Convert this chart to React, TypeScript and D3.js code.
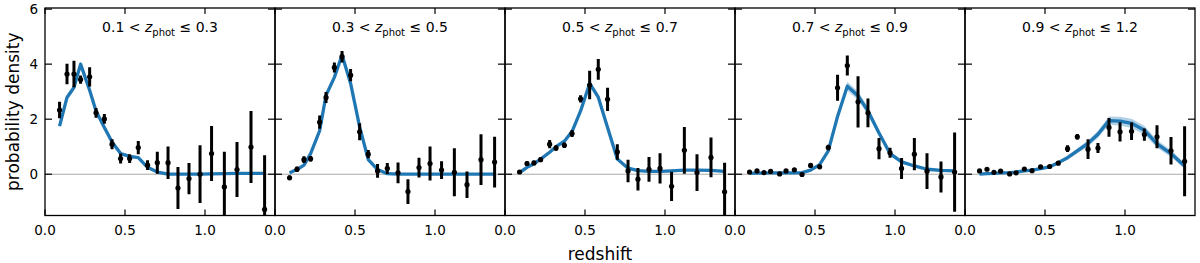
import React from "react";
import * as d3 from "d3";

// redshift bin centres (shared by every panel)
const zBins = [0.091, 0.1375, 0.181, 0.2225, 0.279, 0.319, 0.371, 0.419, 0.4725, 0.529, 0.583,
  0.641, 0.702, 0.769, 0.831, 0.9, 0.969, 1.041, 1.121, 1.2, 1.2875, 1.3725];

const panelLo = ["0.1", "0.3", "0.5", "0.7", "0.9"];
const panelHi = ["0.3", "0.5", "0.7", "0.9", "1.2"];

// measured n(z) with errors
const obs1 = [2.33, 3.64, 3.64, 3.44, 3.54, 2.23, 2.01, 1.09, 0.57, 0.57, 0.97, 0.33, 0.42, 0.42, -0.5, -0.16, 0.0, 0.75, -0.46, 0.17, 0.99, -1.28];
const err1 = [0.3, 0.37, 0.48, 0.15, 0.35, 0.18, 0.18, 0.18, 0.18, 0.16, 0.24, 0.18, 0.4, 0.59, 0.76, 0.57, 1.05, 1.0, 1.28, 1.0, 1.31, 1.97];
const obs2 = [-0.13, 0.18, 0.53, 0.56, 1.89, 2.79, 3.88, 4.27, 3.6, 1.54, 0.73, 0.12, 0.21, 0.05, -0.63, 0.24, 0.39, 0.15, 0.07, -0.38, 0.53, 0.44];
const err2 = [0.08, 0.1, 0.12, 0.1, 0.24, 0.2, 0.18, 0.21, 0.22, 0.31, 0.15, 0.25, 0.2, 0.38, 0.45, 0.36, 0.62, 0.32, 0.87, 0.48, 0.92, 0.92];
const obs3 = [0.08, 0.39, 0.41, 0.53, 1.09, 0.95, 1.05, 1.48, 2.74, 3.24, 3.81, 2.72, 0.81, 0.12, -0.18, 0.18, 0.21, -0.44, 0.87, 0.06, 0.61, -0.64];
const err3 = [0.05, 0.08, 0.08, 0.08, 0.15, 0.1, 0.1, 0.13, 0.13, 0.52, 0.38, 0.42, 0.28, 0.41, 0.41, 0.45, 0.55, 0.53, 0.85, 0.67, 0.72, 1.06];
const obs4 = [0.08, 0.12, 0.06, 0.1, 0.01, 0.12, 0.16, -0.01, 0.32, 0.27, 0.97, 3.14, 3.95, 2.63, 2.23, 0.93, 0.78, 0.21, 0.73, 0.11, -0.1, 0.08];
const err4 = [0.04, 0.04, 0.04, 0.04, 0.04, 0.04, 0.05, 0.05, 0.06, 0.07, 0.1, 0.47, 0.36, 0.93, 0.52, 0.39, 0.18, 0.38, 0.59, 0.65, 0.56, 1.44];
const obs5 = [0.12, 0.18, 0.07, 0.11, 0.01, 0.05, 0.19, 0.13, 0.27, 0.28, 0.4, 0.93, 1.36, 0.91, 0.95, 1.7, 1.54, 1.56, 1.44, 1.36, 0.85, 0.47];
const err5 = [0.04, 0.04, 0.04, 0.04, 0.04, 0.04, 0.04, 0.04, 0.05, 0.05, 0.06, 0.12, 0.1, 0.36, 0.18, 0.34, 0.35, 0.32, 0.22, 0.42, 0.5, 1.27];

// model curves and half-width of the uncertainty band
const model1 = [1.75, 2.79, 3.15, 4.0, 3.05, 2.3, 1.7, 1.17, 0.75, 0.65, 0.6, 0.25, 0.08, 0.0, 0.0, 0.0, 0.0, 0.01, 0.02, 0.03, 0.03, 0.03];
const band1 = [0.1, 0.1, 0.1, 0.1, 0.08, 0.07, 0.06, 0.05, 0.04, 0.04, 0.04, 0.03, 0.03, 0.03, 0.03, 0.03, 0.03, 0.03, 0.03, 0.03, 0.03, 0.03];
const model2 = [0.05, 0.17, 0.33, 0.75, 1.58, 2.87, 3.52, 4.33, 3.3, 1.72, 0.53, 0.17, 0.02, 0.0, 0.0, 0.0, 0.0, 0.0, 0.0, 0.0, 0.0, 0.0];
const band2 = [0.03, 0.03, 0.04, 0.05, 0.06, 0.07, 0.07, 0.08, 0.07, 0.06, 0.04, 0.03, 0.03, 0.03, 0.03, 0.03, 0.03, 0.03, 0.03, 0.03, 0.03, 0.03];
const model3 = [0.06, 0.25, 0.38, 0.55, 0.8, 1.0, 1.2, 1.55, 2.3, 3.3, 2.8, 1.7, 0.55, 0.22, 0.13, 0.1, 0.1, 0.12, 0.15, 0.15, 0.14, 0.1];
const band3 = [0.03, 0.03, 0.03, 0.04, 0.04, 0.05, 0.05, 0.06, 0.08, 0.1, 0.09, 0.07, 0.05, 0.04, 0.04, 0.04, 0.04, 0.04, 0.04, 0.04, 0.04, 0.04];
const model4 = [0.03, 0.04, 0.04, 0.05, 0.05, 0.05, 0.05, 0.06, 0.15, 0.35, 0.85, 2.1, 3.2, 2.85, 2.3, 1.5, 0.75, 0.45, 0.3, 0.18, 0.14, 0.12];
const band4 = [0.03, 0.03, 0.03, 0.03, 0.03, 0.03, 0.03, 0.03, 0.04, 0.05, 0.07, 0.12, 0.16, 0.16, 0.14, 0.12, 0.08, 0.06, 0.05, 0.05, 0.04, 0.04];
const model5 = [0.0, 0.02, 0.03, 0.05, 0.06, 0.08, 0.12, 0.15, 0.2, 0.27, 0.42, 0.6, 0.85, 1.12, 1.45, 1.95, 1.93, 1.85, 1.6, 1.1, 0.75, 0.3];
const band5 = [0.03, 0.03, 0.03, 0.03, 0.03, 0.03, 0.04, 0.04, 0.04, 0.05, 0.06, 0.07, 0.09, 0.11, 0.13, 0.15, 0.16, 0.17, 0.16, 0.14, 0.12, 0.1];

const observed = [obs1, obs2, obs3, obs4, obs5];
const errors = [err1, err2, err3, err4, err5];
const models = [model1, model2, model3, model4, model5];
const bands = [band1, band2, band3, band4, band5];

const xTicks = [0, 0.5, 1.0];
const yTicks = [0, 2, 4, 6];

const W = 1200;
const H = 263;
const left = 45;
const panelW = 230;
const top = 8;
const bottom = 215.5;
const blue = "#1f77b4";
const font = "DejaVu Sans, sans-serif";

const y = d3.scaleLinear().domain([-1.5, 6.04]).range([bottom, top]);

const Panel = ({ idx }: { idx: number }) => {
  const x0 = left + idx * panelW;
  const x = d3.scaleLinear().domain([0, 1.4375]).range([x0, x0 + panelW]);
  const obs = observed[idx];
  const err = errors[idx];
  const mod = models[idx];
  const bw = bands[idx];
  const line = d3.line<number>().x((_, i) => x(zBins[i])).y((d) => y(d));
  const area = d3.area<number>()
    .x((_, i) => x(zBins[i]))
    .y0((d, i) => y(d - bw[i]))
    .y1((d, i) => y(d + bw[i]));
  const clipId = `clip${idx}`;
  return (
    <g>
      <defs>
        <clipPath id={clipId}>
          <rect x={x0} y={top} width={panelW} height={bottom - top} />
        </clipPath>
      </defs>
      <g clipPath={`url(#${clipId})`}>
        <line x1={x0} x2={x0 + panelW} y1={y(0)} y2={y(0)} stroke="#aaaaaa" strokeWidth={1} />
        <path d={area(mod) || ""} fill={blue} fillOpacity={0.35} />
        <path d={line(mod) || ""} fill="none" stroke={blue} strokeWidth={3.3} strokeLinejoin="round" />
        {obs.map((v, i) => (
          <g key={i}>
            <line x1={x(zBins[i])} x2={x(zBins[i])} y1={y(v - err[i])} y2={y(v + err[i])}
              stroke="black" strokeWidth={3} />
            <circle cx={x(zBins[i])} cy={y(v)} r={2.6} fill="black" />
          </g>
        ))}
      </g>
      {/* inward ticks on all four sides */}
      {xTicks.map((t) => (
        <g key={`x${t}`}>
          <line x1={x(t)} x2={x(t)} y1={bottom} y2={bottom - 6} stroke="black" strokeWidth={1.2} />
          <line x1={x(t)} x2={x(t)} y1={top} y2={top + 6} stroke="black" strokeWidth={1.2} />
          <text x={x(t)} y={bottom + 19} textAnchor="middle" fontSize={13.5} fontFamily={font}>
            {t.toFixed(1)}
          </text>
        </g>
      ))}
      {yTicks.map((t) => (
        <g key={`y${t}`}>
          <line x1={x0} x2={x0 + 7} y1={y(t)} y2={y(t)} stroke="black" strokeWidth={1.2} />
          <line x1={x0 + panelW} x2={x0 + panelW - 7} y1={y(t)} y2={y(t)} stroke="black" strokeWidth={1.2} />
          {idx === 0 && (
            <text x={x0 - 7} y={y(t) + 5} textAnchor="end" fontSize={13.5} fontFamily={font}>
              {t}
            </text>
          )}
        </g>
      ))}
      <rect x={x0} y={top} width={panelW} height={bottom - top} fill="none" stroke="black" strokeWidth={1.3} />
      <text x={x0 + panelW / 2} y={31.5} textAnchor="middle" fontSize={14} fontFamily={font}>
        <tspan>{panelLo[idx]} &lt; </tspan>
        <tspan fontStyle="italic">z</tspan>
        <tspan dy={4} fontSize={10}>phot</tspan>
        <tspan dy={-4}> ≤ {panelHi[idx]}</tspan>
      </text>
    </g>
  );
};

const App = () => {
  return (
    <svg width={W} height={H} style={{ position: "absolute", left: 0, top: 0, background: "white" }}>
      <rect width={W} height={H} fill="white" />
      {observed.map((_, i) => (
        <Panel key={i} idx={i} />
      ))}
      <text x={600} y={260} textAnchor="middle" fontSize={17} fontFamily={font}>
        redshift
      </text>
      <text transform={`translate(19,${(top + bottom) / 2}) rotate(-90)`} textAnchor="middle"
        fontSize={17} fontFamily={font}>
        probability density
      </text>
    </svg>
  );
};

export default App;
